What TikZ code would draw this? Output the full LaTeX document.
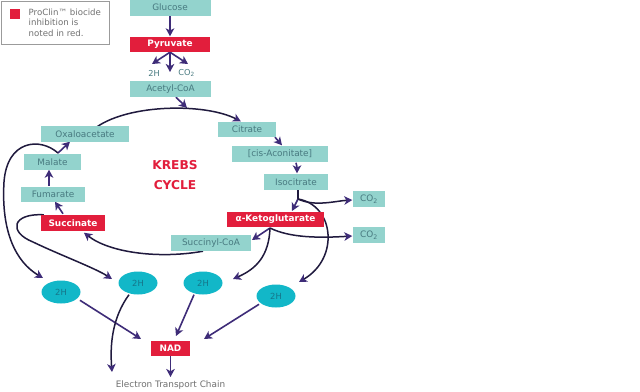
\documentclass[tikz,border=0pt]{standalone}
\usepackage{fontspec}
\setmainfont{DejaVu Sans}
\usetikzlibrary{arrows.meta,calc,shapes.geometric,backgrounds}
\definecolor{tealc}{RGB}{147,211,205}
\definecolor{tealtext}{RGB}{72,122,128}
\definecolor{redc}{RGB}{226,30,60}
\definecolor{cyanc}{RGB}{18,183,200}
\definecolor{cyantext}{RGB}{22,118,138}
\definecolor{arrc}{RGB}{62,44,120}
\definecolor{navyc}{RGB}{32,26,62}
\definecolor{grayt}{RGB}{112,112,112}
\begin{document}
\begin{tikzpicture}[x=1pt,y=-1pt,
  tbox/.style={fill=tealc, text=tealtext, font=\fontsize{8.9}{10}\selectfont, inner sep=0pt, minimum height=16pt},
  rbox/.style={fill=redc, text=white, font=\bfseries\fontsize{8.9}{10}\selectfont, inner sep=0pt, minimum height=15pt},
  hh/.style={ellipse, fill=cyanc, text=cyantext, font=\fontsize{8.4}{9}\selectfont, inner sep=0pt, minimum width=39pt, minimum height=23pt},
  lbl/.style={text=tealtext, font=\fontsize{8.2}{9}\selectfont, inner sep=1pt},
  arr/.style={draw=arrc, line width=1.6pt, -{Stealth[length=8pt,width=8.5pt,inset=2.2pt,color=arrc]}},
  carr/.style={draw=navyc, line width=1.5pt, -{Stealth[length=8pt,width=8.5pt,inset=2.2pt,color=arrc]}},
  cline/.style={draw=navyc, line width=1.5pt}]
\useasboundingbox (0,0) rectangle (640,391);

% legend
\node[draw=grayt!70, line width=0.8pt, minimum width=108pt, minimum height=43.5pt, inner sep=0pt, anchor=north west] (legend) at (0.5,0.5) {};
\node[fill=redc, minimum width=10pt, minimum height=10pt, inner sep=0pt] (legsq) at (14.5,14) {};
\node[anchor=west, align=left, text=grayt, font=\fontsize{8.6}{10.3}\selectfont, inner sep=0pt] (legtxt) at (28.5,22.5) {ProClin™ biocide\\inhibition is\\noted in red.};

% nodes
\node[tbox, minimum width=81pt, minimum height=17pt] (glucose) at (170,7.5) {Glucose};
\node[rbox, minimum width=80pt] (pyruvate) at (170,44.5) {Pyruvate};
\node[lbl] (h2p) at (154,73) {2H};
\node[lbl] (co2p) at (186.5,73) {CO\textsubscript{2}};
\node[tbox, minimum width=81pt] (acetyl) at (170.5,89) {Acetyl-CoA};
\node[tbox, minimum width=88pt] (oxalo) at (85,134) {Oxaloacetate};
\node[tbox, minimum width=58pt, minimum height=15pt] (citrate) at (247,129.5) {Citrate};
\node[tbox, minimum width=96pt] (cis) at (280,154) {[cis-Aconitate]};
\node[tbox, minimum width=64pt] (iso) at (296,182) {Isocitrate};
\node[rbox, minimum width=97pt] (aketo) at (275.5,219.5) {α-Ketoglutarate};
\node[tbox, minimum width=32pt] (co2a) at (369,199) {CO\textsubscript{2}};
\node[tbox, minimum width=32pt] (co2b) at (369,235) {CO\textsubscript{2}};
\node[tbox, minimum width=80pt] (scoa) at (211,243) {Succinyl-CoA};
\node[rbox, minimum width=64pt, minimum height=16pt] (succ) at (73,223) {Succinate};
\node[tbox, minimum width=64pt, minimum height=15pt] (fum) at (53,194.5) {Fumarate};
\node[tbox, minimum width=57pt] (malate) at (52.5,162) {Malate};
\node[text=redc, font=\bfseries\fontsize{12.2}{20}\selectfont, align=center, inner sep=0pt] (krebs) at (175,175) {KREBS\\CYCLE};
\node[hh] (e1) at (61,292) {2H};
\node[hh] (e2) at (138,283) {2H};
\node[hh] (e3) at (203,283) {2H};
\node[hh] (e4) at (276,296) {2H};
\node[rbox, minimum width=39pt] (nad) at (170.5,348.5) {NAD};
\node[text=grayt, font=\fontsize{8.9}{10}\selectfont, inner sep=0pt] (etc) at (170.5,385) {Electron Transport Chain};

% named points
\coordinate (pl) at (152,64);
\coordinate (pd) at (170,72);
\coordinate (pr) at (188,64);
\coordinate (arcpt) at (187,108);
\coordinate (isob) at (298,199);
\coordinate (akin) at (292,211);
\coordinate (akb) at (270,228);
\coordinate (scin) at (252,240);
\coordinate (mo) at (58,153);
\coordinate (t1) at (43,278);
\coordinate (t2) at (112,279);
\coordinate (t3) at (233,279);
\coordinate (t4) at (299,282);
\coordinate (n1) at (141,339);
\coordinate (n3) at (176,336);
\coordinate (n4) at (204,339);
\coordinate (etcin) at (112,372);

\begin{scope}[on background layer]
\fill[white] (0,0) rectangle (640,391);
% top
\draw[arr] (glucose.south) -- ($(pyruvate.north)+(0,-0.5)$);
\draw[arr] (pyruvate.south) -- (pl);
\draw[arr] (pyruvate.south) -- (pd);
\draw[arr] (pyruvate.south) -- (pr);
\draw[arr] ($(acetyl.south)+(5.5,0)$) -- (arcpt);
% main arc
\draw[carr] ($(oxalo.north)+(12,1)$) .. controls (130,104) and (205,103) .. ($(citrate.north west)+(23,-0.5)$);
% right side
\draw[arr] ($(citrate.south)+(28,0)$) -- ($(cis.north)+(2,-0.5)$);
\draw[arr] ($(iso.north)+(0,-11)$) .. controls (297,167) .. ($(iso.north)+(1,-0.5)$);
\draw[cline] ($(iso.south)+(2,0)$) -- (isob);
\draw[arr] (isob) -- (akin);
\draw[carr] (isob) .. controls (315,207) and (335,201) .. ($(co2a.west)+(-0.5,1)$);
\draw[carr] (isob) .. controls (334,205) and (340,258) .. (t4);
\draw[arr] (akb) -- (scin);
\draw[carr] (akb) .. controls (290,238) and (320,238) .. ($(co2b.west)+(-0.5,1)$);
\draw[carr] (akb) .. controls (269,256) and (256,269) .. (t3);
% succinyl -> succinate
\draw[carr] ($(scoa.south)+(-8,0)$) .. controls (160,259) and (110,253) .. ($(succ.south)+(11,1.5)$);
% left side
\draw[arr] ($(succ.north)+(-10,-1)$) -- ($(fum.south)+(2,-0.5)$);
\draw[arr] ($(fum.north)+(-4,-1)$) -- ($(malate.south)+(-3.5,-0.5)$);
\draw[arr] (mo) -- ($(oxalo.south)+(-15,-0.5)$);
\draw[cline] (mo) .. controls (40,137) and (7,140) .. (4,182);
\draw[carr] (4,182) .. controls (1,232) and (16,262) .. (t1);
\draw[cline] ($(succ.north west)+(3,0)$) .. controls (12,213) and (8,232) .. (33,242);
\draw[carr] (33,242) .. controls (60,255) and (95,268) .. (t2);
% bottom
\draw[arr] ($(e1.south east)+(5,0)$) -- (n1);
\draw[carr] ($(e2.south)+(-9,0)$) .. controls (112,318) and (110,345) .. (etcin);
\draw[arr] ($(e3.south)+(-9,0)$) -- (n3);
\draw[arr] ($(e4.south west)+(-3,0)$) -- (n4);
\draw[arr] (nad.south) -- ($(etc.north)+(0,-3.5)$);
\end{scope}
\end{tikzpicture}
\end{document}
